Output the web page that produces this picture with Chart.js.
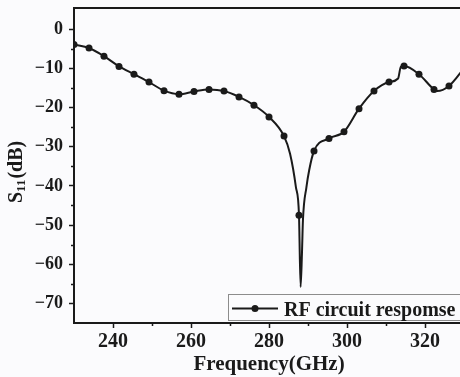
<!DOCTYPE html>
<html>
<head>
<meta charset="utf-8">
<script src="https://cdn.jsdelivr.net/npm/chart.js@4"></script>
<style>
  html, body { margin: 0; padding: 0; background: #fbfbfd; overflow: hidden; }
  #wrap { position: relative; width: 470px; height: 377px; }
</style>
</head>
<body>
<div id="wrap"><canvas id="s11" width="470" height="377"></canvas></div>
<script>
const X_TICKS = [240, 260, 280, 300, 320];
const X_MINOR = [250, 270, 290, 310];
const Y_TICKS = [-70, -60, -50, -40, -30, -20, -10, 0];
const Y_MINOR = [-65, -55, -45, -35, -25, -15, -5];

// sampled points shown with markers
const MARKER_FREQ = [230, 233.85, 237.69, 241.54, 245.38, 249.23, 253.08, 256.92, 260.77, 264.62,
  268.46, 272.31, 276.15, 280, 283.85, 287.69, 291.54, 295.38, 299.23, 303.08,
  306.92, 310.77, 314.62, 318.46, 322.31, 326.15, 330];
const MARKER_S11 = [-3.9, -4.8, -6.9, -9.5, -11.5, -13.5, -15.7, -16.6, -15.9, -15.4,
  -15.8, -17.3, -19.4, -22.4, -27.3, -47.5, -31.1, -27.9, -26.2, -20.3,
  -15.8, -13.5, -9.4, -11.5, -15.4, -14.5, -10.0];

// extra trace samples between markers: resonance dip, jump near 313 GHz, valley near 323 GHz
const TRACE_FREQ = [285.4, 286.9, 288.1, 288.45, 288.7, 289.6, 290.3, 313.1, 313.8, 323.1];
const TRACE_S11 = [-31.8, -40.3, -65.8, -57.3, -48.8, -40.3, -36.0, -12.6, -9.6, -15.8];

const LEGEND_LABEL = 'RF circuit respomse';

const INK = '#1a1a1a';
const BG = '#fbfbfd';
const SERIF = '"Liberation Serif", "Times New Roman", serif';

const markerPoints = MARKER_FREQ.map((f, i) => ({ x: f, y: MARKER_S11[i] }));
const tracePoints = markerPoints
  .concat(TRACE_FREQ.map((f, i) => ({ x: f, y: TRACE_S11[i] })))
  .sort((a, b) => a.x - b.x);

const fmtMinus = (v) => (v < 0 ? '\u2212' + Math.abs(v) : String(v));

// minor ticks, top frame line, y title with subscript and the legend box
const decorations = {
  id: 'decorations',
  afterDraw(chart) {
    const { ctx, chartArea } = chart;
    const xs = chart.scales.x;
    const ys = chart.scales.y;
    ctx.save();
    ctx.strokeStyle = INK;
    ctx.lineWidth = 1.5;
    ctx.beginPath();
    Y_MINOR.forEach((v) => {
      const y = Math.round(ys.getPixelForValue(v)) + 0.5;
      ctx.moveTo(chartArea.left - 3, y);
      ctx.lineTo(chartArea.left, y);
    });
    X_MINOR.forEach((v) => {
      const x = Math.round(xs.getPixelForValue(v)) + 0.5;
      ctx.moveTo(x, chartArea.bottom);
      ctx.lineTo(x, chartArea.bottom + 3);
    });
    ctx.stroke();

    ctx.lineWidth = 2;
    ctx.beginPath();
    ctx.moveTo(chartArea.left - 1, chartArea.top);
    ctx.lineTo(chart.width, chartArea.top);
    ctx.stroke();

    // S11(dB), rotated
    ctx.fillStyle = INK;
    ctx.translate(22, 203);
    ctx.rotate(-Math.PI / 2);
    ctx.textBaseline = 'alphabetic';
    ctx.textAlign = 'left';
    ctx.font = 'bold 20px ' + SERIF;
    ctx.fillText('S', 0, 0);
    let w = ctx.measureText('S').width;
    ctx.font = 'bold 13px ' + SERIF;
    ctx.fillText('11', w, 3);
    w += ctx.measureText('11').width + 1;
    ctx.font = 'bold 20px ' + SERIF;
    ctx.fillText('(dB)', w, 0);
    ctx.restore();

    // legend
    ctx.save();
    const bx = 228.5, by = 294.5, bh = 26;
    ctx.fillStyle = BG;
    ctx.fillRect(bx, by, chart.width, bh);
    ctx.strokeStyle = '#8c8c8c';
    ctx.lineWidth = 1;
    ctx.strokeRect(bx, by, chart.width, bh);
    ctx.strokeStyle = INK;
    ctx.lineWidth = 2;
    ctx.beginPath();
    ctx.moveTo(232, 308.5);
    ctx.lineTo(278, 308.5);
    ctx.stroke();
    ctx.fillStyle = INK;
    ctx.beginPath();
    ctx.arc(255, 308.5, 3.5, 0, Math.PI * 2);
    ctx.fill();
    ctx.font = 'bold 20px ' + SERIF;
    ctx.textBaseline = 'alphabetic';
    ctx.fillText(LEGEND_LABEL, 284, 316);
    ctx.restore();
  },
};

new Chart(document.getElementById('s11'), {
  type: 'line',
  data: {
    datasets: [
      {
        label: LEGEND_LABEL,
        data: markerPoints,
        showLine: false,
        pointRadius: 3.5,
        pointBackgroundColor: INK,
        pointBorderColor: INK,
        pointBorderWidth: 0,
      },
      {
        label: 'trace',
        data: tracePoints,
        borderColor: INK,
        borderWidth: 2,
        pointRadius: 0,
        cubicInterpolationMode: 'monotone',
        fill: false,
      },
    ],
  },
  plugins: [decorations],
  options: {
    responsive: false,
    animation: false,
    events: [],
    layout: { padding: { top: 8, right: 6, left: 0, bottom: 0 } },
    plugins: { legend: { display: false }, tooltip: { enabled: false } },
    scales: {
      x: {
        type: 'linear',
        min: 230,
        max: 330,
        afterBuildTicks: (s) => { s.ticks = X_TICKS.map((v) => ({ value: v })); },
        afterFit: (s) => { s.height = 54; s.paddingLeft = 0; s.paddingRight = 0; },
        border: { display: true, color: INK, width: 2 },
        grid: { drawOnChartArea: false, tickLength: 5, color: INK, tickWidth: 1.5 },
        ticks: {
          color: INK,
          padding: 2,
          maxRotation: 0,
          font: { family: SERIF, size: 20, weight: 'bold' },
        },
        title: {
          display: true,
          text: 'Frequency(GHz)',
          color: INK,
          padding: { top: 0, bottom: 0 },
          font: { family: SERIF, size: 21, weight: 'bold' },
        },
      },
      y: {
        type: 'linear',
        min: -75,
        max: 5.4,
        afterBuildTicks: (s) => { s.ticks = Y_TICKS.map((v) => ({ value: v })); },
        afterFit: (s) => { s.width = 74; s.paddingTop = 0; s.paddingBottom = 0; },
        border: { display: true, color: INK, width: 2 },
        grid: { drawOnChartArea: false, tickLength: 5, color: INK, tickWidth: 1.5 },
        ticks: {
          color: INK,
          padding: 6,
          font: { family: SERIF, size: 18, weight: 'bold' },
          callback: (v) => fmtMinus(v),
        },
      },
    },
  },
});
</script>
</body>
</html>
